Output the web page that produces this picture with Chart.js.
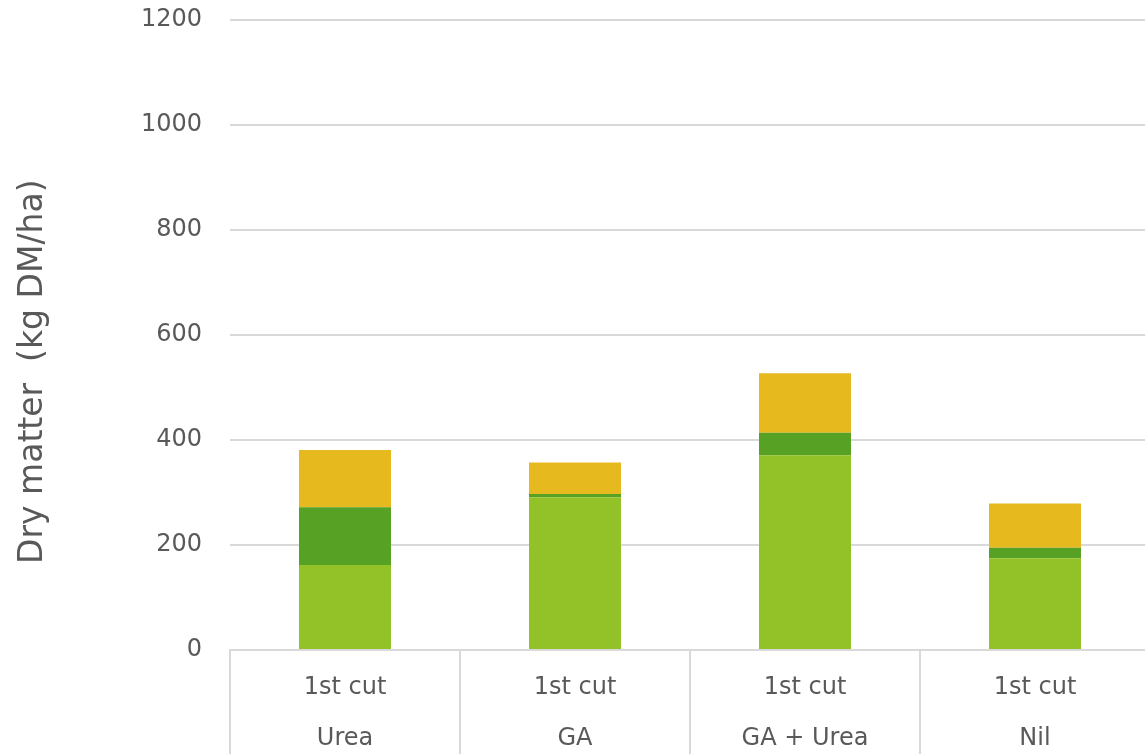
<!DOCTYPE html>
<html>
<head>
<meta charset="utf-8">
<script src="https://cdn.jsdelivr.net/npm/chart.js@4"></script>
<style>
  html, body { margin: 0; padding: 0; background: #fff; overflow: hidden; }
  #wrap { width: 1150px; height: 754px; position: relative; }
</style>
</head>
<body>
<div id="wrap"><canvas id="chart"></canvas></div>
<script>
const treatments = ['Urea', 'GA', 'GA + Urea', 'Nil'];
const cutLabels = ['1st cut', '1st cut', '1st cut', '1st cut'];
const lightGreen = [162, 291, 371, 175];
const darkGreen = [110, 6, 43, 20];
const yellow = [109, 60, 113, 84];
const yTicks = [0, 200, 400, 600, 800, 1000, 1200];

const textColor = '#595959';
const gridColor = '#d9d9d9';
const fontFamily = '"DejaVu Sans", sans-serif';

new Chart(document.getElementById('chart'), {
    type: 'bar',
    data: {
        labels: treatments.map((t, i) => [cutLabels[i], t]),
        datasets: [
            { label: 'Series 1', data: lightGreen, backgroundColor: '#92c227' },
            { label: 'Series 2', data: darkGreen, backgroundColor: '#57a124' },
            { label: 'Series 3', data: yellow, backgroundColor: '#e6b91f' },
        ],
    },
    options: {
        responsive: true,
        maintainAspectRatio: false,
        animation: false,
        layout: { padding: { top: 0, right: 0, bottom: 0, left: 0 } },
        datasets: { bar: { categoryPercentage: 1, barPercentage: 0.4 } },
        plugins: { legend: { display: false }, tooltip: { enabled: false } },
        scales: {
            x: {
                stacked: true,
                grid: { display: true, drawOnChartArea: false, drawTicks: true, tickLength: 104, offset: true, color: gridColor, lineWidth: 2 },
                border: { display: true, color: gridColor, width: 2 },
                ticks: { color: textColor, font: { family: fontFamily, size: 24, lineHeight: 51 / 24 }, padding: -91.5, maxRotation: 0 },
                afterFit: s => { s.height = 104; s.paddingTop = 0; },
            },
            y: {
                stacked: true,
                min: 0,
                max: yTicks[yTicks.length - 1],
                afterBuildTicks: s => { s.ticks = yTicks.map(v => ({ value: v })); },
                grid: { color: gridColor, lineWidth: 2, drawTicks: false },
                border: { display: false },
                ticks: { color: textColor, font: { family: fontFamily, size: 24 }, padding: 28, callback: v => String(v) },
                title: { display: true, text: 'Dry matter  (kg DM/ha)       ', color: textColor, font: { family: fontFamily, size: 33 }, padding: { top: 14, bottom: 0 } },
                afterFit: s => { s.width = 230; s.paddingTop = 20; s.paddingBottom = 0; },
            },
        },
    },
});
</script>
</body>
</html>
